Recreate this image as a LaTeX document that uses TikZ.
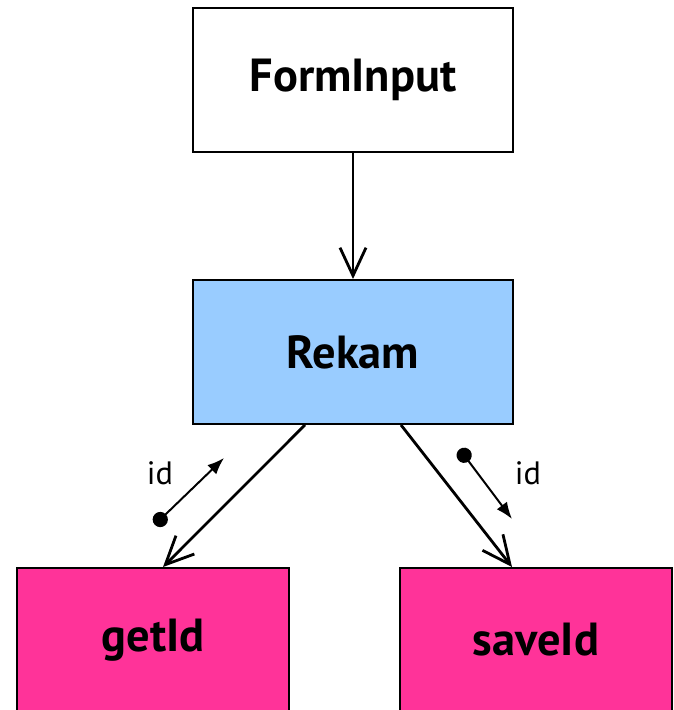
\documentclass[tikz,border=0pt]{standalone}
\usepackage{fontspec}
\setmainfont{PT Sans}
\usetikzlibrary{arrows.meta}

\definecolor{rekamblue}{HTML}{99CCFF}
\definecolor{callpink}{HTML}{FF3399}

\tikzset{
    box/.style={draw, line width=1.4pt, minimum width=8cm, minimum height=3.6cm,
        font=\fontsize{33}{38}\selectfont\bfseries},
    callbox/.style={box, fill=callpink, minimum width=6.8cm},
    flow/.style={line width=2pt, -{Straight Barb[length=0.7cm,width=0.65cm,line width=2pt]}},
    param/.style={line width=1.4pt, {Circle[length=0.38cm]}-{Latex[length=0.42cm,width=0.32cm]}},
    lbl/.style={font=\fontsize{23}{27}\selectfont}
}

\begin{document}
\begin{tikzpicture}
\useasboundingbox (0,0) rectangle (16.825,17.75);
\node[box, fill=white] (form) at (8.825,15.75) {FormInput};
\node[box, fill=rekamblue] (rekam) at (8.825,8.95) {Rekam};
\node[callbox] (getid) at (3.825,1.75) {getId};
\node[callbox] (saveid) at (13.4,1.75) {saveId};

\coordinate (rekamL) at ([xshift=-1.2cm]rekam.south);
\coordinate (rekamR) at ([xshift=1.2cm]rekam.south);
\coordinate (getidIn) at ([xshift=0.25cm]getid.north);
\coordinate (saveidIn) at ([xshift=-0.6cm]saveid.north);

\draw[flow] (form) -- (rekam);
\draw[flow] (rekamL) -- (getidIn);
\draw[flow] (rekamR) -- (saveidIn);

% id passed back and forth
\coordinate (idout) at (3.87,4.63);
\coordinate (idoutend) at (5.6,6.3);
\coordinate (idin) at (11.49,6.52);
\coordinate (idinend) at (12.8,4.775);
\draw[param] (idout) -- (idoutend);
\draw[param] (idin) -- (idinend);
\node[lbl] (idoutlbl) at (4.0,5.925) {id};
\node[lbl] (idinlbl) at (13.2,5.925) {id};
\end{tikzpicture}
\end{document}
